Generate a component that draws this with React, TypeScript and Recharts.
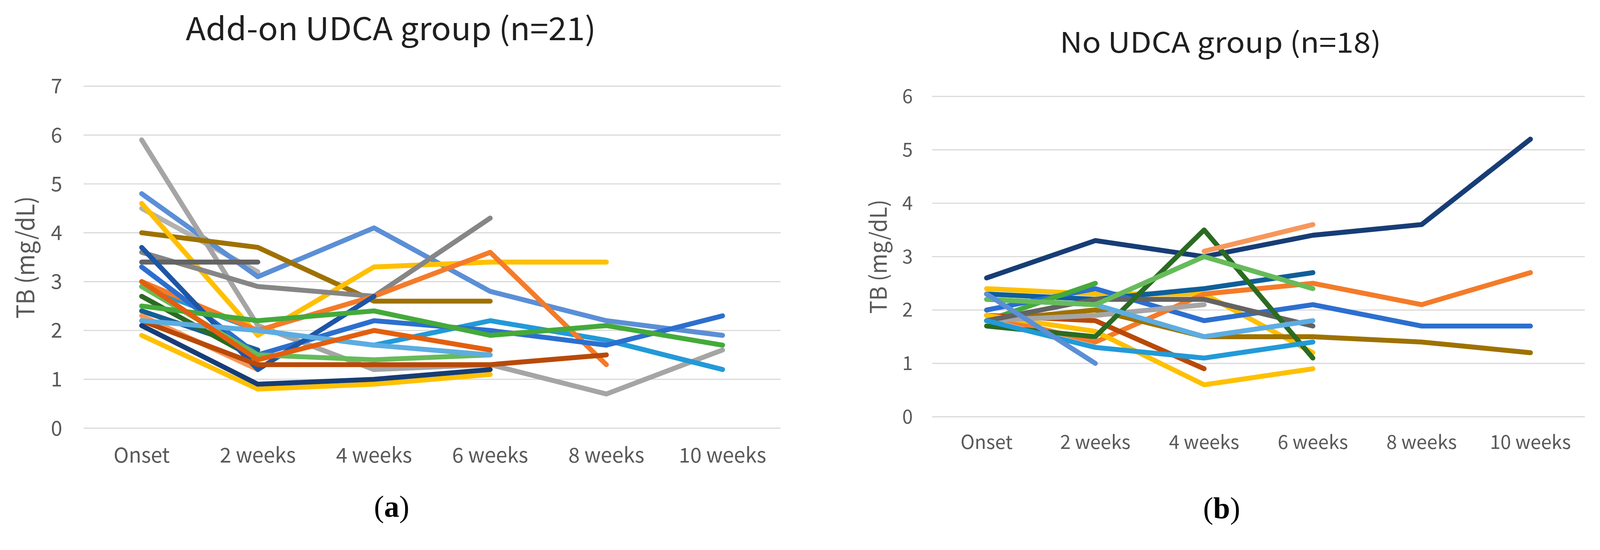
import React from 'react';
import { LineChart, Line, XAxis, YAxis, CartesianGrid } from 'recharts';

// ---------- categories & ticks ----------
const categories = ['Onset', '2 weeks', '4 weeks', '6 weeks', '8 weeks', '10 weeks'];
const categoryIndex = [0, 1, 2, 3, 4, 5];
const ticksA = [0, 1, 2, 3, 4, 5, 6, 7];
const ticksB = [0, 1, 2, 3, 4, 5, 6];

// ---------- (a) Add-on UDCA group (n=21) ----------
const a_lightGrayB = [4.5, 3.2];
const a_lightGrayA = [5.9, 2.1, 1.2, 1.3, 0.7, 1.6];
const a_blue = [4.8, 3.1, 4.1, 2.8, 2.2, 1.9];
const a_brown = [4.0, 3.7, 2.6, 2.6];
const a_yellowA = [4.6, 1.9, 3.3, 3.4, 3.4];
const a_gray = [3.6, 2.9, 2.7, 4.3];
const a_darkGray = [3.4, 3.4];
const a_teal = [2.4, 1.6];
const a_lightOrange = [2.3, 1.2];
const a_darkGreen = [2.7, 1.4];
const a_skyBlue = [2.9, 2.0, 1.7, 2.2, 1.8, 1.2];
const a_orange = [3.0, 2.0, 2.7, 3.6, 1.3];
const a_mediumBlue = [3.3, 1.5, 2.2, 2.0, 1.7, 2.3];
const a_darkBlue = [3.7, 1.2, 2.7];
const a_lightGreen = [2.9, 1.5, 1.4, 1.5];
const a_green = [2.5, 2.2, 2.4, 1.9, 2.1, 1.7];
const a_rust = [2.2, 1.3, 1.3, 1.3, 1.5];
const a_lightBlue = [2.2, 2.0, 1.7, 1.5];
const a_yellowB = [1.9, 0.8, 0.9, 1.1];
const a_navy = [2.1, 0.9, 1.0, 1.2];
const a_orangeRed = [3.0, 1.4, 2.0, 1.6];

// ---------- (b) No UDCA group (n=18) ----------
const b_navy = [2.6, 3.3, 3.0, 3.4, 3.6, 5.2];
const b_yellowA = [2.4, 2.3, 2.3, 1.2];
const b_teal = [2.3, 2.2, 2.4, 2.7];
const b_mediumBlue = [2.0, 2.4, 1.8, 2.1, 1.7, 1.7];
const b_green = [1.8, 2.5];
const b_orange = [1.9, 1.4, 2.3, 2.5, 2.1, 2.7];
const b_rust = [1.9, 1.8, 0.9];
const b_yellowB = [1.9, 1.6, 0.6, 0.9];
const b_brown = [1.8, 2.0, 1.5, 1.5, 1.4, 1.2];
const b_lightGray = [1.8, 1.9, 2.1];
const b_gray = [1.8, 2.2, 2.2, 1.7];
const b_darkGreen = [1.7, 1.5, 3.5, 1.1];
const b_skyBlue = [1.8, 1.3, 1.1, 1.4];
const b_lightBlue = [2.2, 2.1, 1.5, 1.8];
const b_lightGreen = [2.2, 2.1, 3.0, 2.4];
const b_lightOrange = [null, null, 3.1, 3.6];
const b_blue = [2.3, 1.0];

type Series = { key: string; values: (number | null)[]; color: string };

const seriesA: Series[] = [
  { key: 'lightGrayB', values: a_lightGrayB, color: '#B2B2B2' },
  { key: 'blue', values: a_blue, color: '#5B8FD6' },
  { key: 'lightGrayA', values: a_lightGrayA, color: '#A5A5A5' },
  { key: 'brown', values: a_brown, color: '#9E7200' },
  { key: 'yellowA', values: a_yellowA, color: '#FFC000' },
  { key: 'gray', values: a_gray, color: '#868686' },
  { key: 'darkGray', values: a_darkGray, color: '#636363' },
  { key: 'teal', values: a_teal, color: '#155F92' },
  { key: 'lightOrange', values: a_lightOrange, color: '#F7975A' },
  { key: 'darkGreen', values: a_darkGreen, color: '#2B6B22' },
  { key: 'skyBlue', values: a_skyBlue, color: '#229AD8' },
  { key: 'orange', values: a_orange, color: '#F47B2A' },
  { key: 'mediumBlue', values: a_mediumBlue, color: '#2C6FCF' },
  { key: 'darkBlue', values: a_darkBlue, color: '#1D56A6' },
  { key: 'lightGreen', values: a_lightGreen, color: '#66BB5A' },
  { key: 'green', values: a_green, color: '#44AA3A' },
  { key: 'rust', values: a_rust, color: '#B94A08' },
  { key: 'lightBlue', values: a_lightBlue, color: '#5DADE2' },
  { key: 'yellowB', values: a_yellowB, color: '#FFC000' },
  { key: 'navy', values: a_navy, color: '#173D76' },
  { key: 'orangeRed', values: a_orangeRed, color: '#E35F0E' },
];

const seriesB: Series[] = [
  { key: 'navy', values: b_navy, color: '#173D76' },
  { key: 'yellowA', values: b_yellowA, color: '#FFC000' },
  { key: 'teal', values: b_teal, color: '#0E5F99' },
  { key: 'mediumBlue', values: b_mediumBlue, color: '#2C6FCF' },
  { key: 'green', values: b_green, color: '#44AA3A' },
  { key: 'orange', values: b_orange, color: '#F47B2A' },
  { key: 'rust', values: b_rust, color: '#B94A08' },
  { key: 'yellowB', values: b_yellowB, color: '#FFC000' },
  { key: 'brown', values: b_brown, color: '#9E7200' },
  { key: 'lightGray', values: b_lightGray, color: '#A5A5A5' },
  { key: 'gray', values: b_gray, color: '#636363' },
  { key: 'darkGreen', values: b_darkGreen, color: '#2B6B22' },
  { key: 'skyBlue', values: b_skyBlue, color: '#229AD8' },
  { key: 'lightBlue', values: b_lightBlue, color: '#5DADE2' },
  { key: 'lightGreen', values: b_lightGreen, color: '#66BB5A' },
  { key: 'lightOrange', values: b_lightOrange, color: '#F7975A' },
  { key: 'blue', values: b_blue, color: '#5B8FD6' },
];

function buildRows(series: Series[]) {
  return categories.map((c, i) => {
    const row: Record<string, any> = { idx: categoryIndex[i], category: c };
    series.forEach((s) => {
      const v = s.values[i];
      row[s.key] = v === undefined ? null : v;
    });
    return row;
  });
}

const rowsA = buildRows(seriesA);
const rowsB = buildRows(seriesB);

const FONT = '"Noto Sans CJK JP", "Noto Sans", sans-serif';
const SERIF = '"Liberation Serif", "Times New Roman", serif';
const W = 4212;
const H = 1409;

type PanelProps = {
  left: number;
  width: number;
  rows: any[];
  series: Series[];
  ticks: number[];
  margin: { top: number; right: number; bottom: number; left: number };
  yGap: number;
  xGap: number;
  fontSize: number;
  strokeWidth: number;
};

function Panel(p: PanelProps) {
  return (
    <div style={{ position: 'absolute', left: p.left, top: 0, width: p.width, height: H }}>
      <LineChart width={p.width} height={H} data={p.rows} margin={p.margin}>
        <CartesianGrid vertical={false} stroke="#D9D9D9" strokeWidth={3} />
        <XAxis
          dataKey="idx"
          type="number"
          scale="linear"
          domain={[-0.5, 5.5]}
          allowDataOverflow={true}
          ticks={categoryIndex}
          tickCount={6}
          tickFormatter={(v: number) => categories[Math.round(v)] ?? ''}
          axisLine={false}
          tickLine={false}
          tickSize={0}
          tickMargin={p.xGap}
          height={60}
          interval={0}
          tick={{ fill: '#595959', fontSize: p.fontSize, fontFamily: FONT }}
        />
        <YAxis
          domain={[0, p.ticks[p.ticks.length - 1]]}
          ticks={p.ticks}
          axisLine={false}
          tickLine={false}
          tickSize={0}
          tickMargin={p.yGap}
          width={100}
          interval={0}
          tick={{ fill: '#595959', fontSize: p.fontSize, fontFamily: FONT }}
        />
        {p.series.map((s) => (
          <Line
            key={s.key}
            dataKey={s.key}
            type="linear"
            stroke={s.color}
            strokeWidth={p.strokeWidth}
            strokeLinecap="round"
            strokeLinejoin="round"
            dot={false}
            activeDot={false}
            connectNulls={false}
            isAnimationActive={false}
          />
        ))}
      </LineChart>
    </div>
  );
}

function fitScale() {
  if (typeof window === 'undefined') return 1;
  const sw = window.innerWidth / W;
  const sh = window.innerHeight / H;
  const s = Math.min(sw, sh);
  return s > 0 && s < 1 ? s : 1;
}

export default function App() {
  const s = fitScale();
  return (
    <div style={{ position: 'absolute', left: 0, top: 0, width: W * s, height: H * s, overflow: 'hidden', background: '#fff' }}>
      <div style={{ position: 'absolute', left: 0, top: 0, width: W, height: H, background: '#fff', transform: `scale(${s})`, transformOrigin: '0 0' }}>
        <Panel
          left={0}
          width={2100}
          rows={rowsA}
          series={seriesA}
          ticks={ticksA}
          margin={{ top: 227, right: 45, bottom: 221, left: 120 }}
          yGap={56}
          xGap={52}
          fontSize={54}
          strokeWidth={13}
        />
        <Panel
          left={2100}
          width={2112}
          rows={rowsB}
          series={seriesB}
          ticks={ticksB}
          margin={{ top: 254, right: 40, bottom: 251, left: 254 }}
          yGap={51}
          xGap={49}
          fontSize={50}
          strokeWidth={13}
        />
        <svg width={W} height={H} style={{ position: 'absolute', left: 0, top: 0, pointerEvents: 'none' }}>
          <text x={489} y={106} fontSize={83} fontFamily={FONT} fill="#1F1F1F" textLength={1080} lengthAdjust="spacingAndGlyphs">
            Add-on UDCA group (n=21)
          </text>
          <text x={2790} y={139} fontSize={74} fontFamily={FONT} fill="#1F1F1F" textLength={846} lengthAdjust="spacingAndGlyphs">
            No UDCA group (n=18)
          </text>
          <g transform="translate(67 678) rotate(-90)">
            <text x={0} y={23} textAnchor="middle" fontSize={64} fontFamily={FONT} fill="#595959" textLength={323} lengthAdjust="spacingAndGlyphs">
              TB (mg/dL)
            </text>
          </g>
          <g transform="translate(2312 676) rotate(-90)">
            <text x={0} y={22} textAnchor="middle" fontSize={60} fontFamily={FONT} fill="#595959" textLength={301} lengthAdjust="spacingAndGlyphs">
              TB (mg/dL)
            </text>
          </g>
          <text x={1031} y={1362} textAnchor="middle" fontSize={80} fontFamily={SERIF} fill="#000">
            (<tspan fontWeight="bold">a</tspan>)
          </text>
          <text x={3216} y={1366} textAnchor="middle" fontSize={80} fontFamily={SERIF} fill="#000">
            (<tspan fontWeight="bold">b</tspan>)
          </text>
        </svg>
      </div>
    </div>
  );
}
